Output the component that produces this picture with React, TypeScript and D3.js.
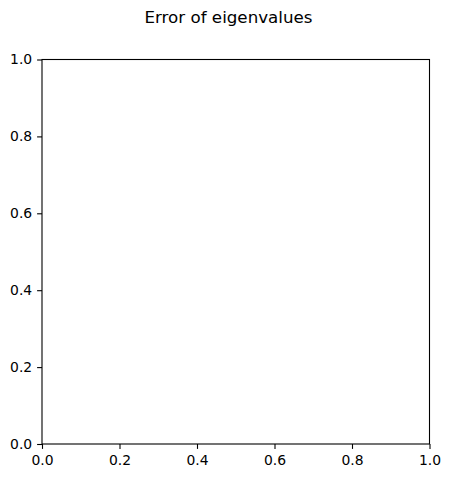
import React, { useEffect, useRef } from "react";
import * as d3 from "d3";

const title = "Error of eigenvalues";
const xDomain = [0, 1];
const yDomain = [0, 1];
const xTicks = [0, 0.2, 0.4, 0.6, 0.8, 1.0];
const yTicks = [0, 0.2, 0.4, 0.6, 0.8, 1.0];

const W = 450;
const H = 478;
const M = { left: 42, right: 429.5, top: 59.5, bottom: 444 };

export default function App() {
  const ref = useRef<SVGSVGElement>(null);
  useEffect(() => {
    const svg = d3.select(ref.current);
    svg.selectAll("*").remove();
    const x = d3.scaleLinear().domain(xDomain).range([M.left, M.right]);
    const y = d3.scaleLinear().domain(yDomain).range([M.bottom, M.top]);
    const font = "'DejaVu Sans', sans-serif";
    const fs = 13.9;

    svg.append("rect").attr("width", W).attr("height", H).attr("fill", "white");

    const xa = svg
      .append("g")
      .attr("transform", `translate(0,${M.bottom})`)
      .call(d3.axisBottom(x).tickValues(xTicks).tickFormat(d3.format(".1f")).tickSize(4.9).tickPadding(4.9));
    xa.selectAll("text").attr("dy", null).attr("y", 21);
    const ya = svg
      .append("g")
      .attr("transform", `translate(${M.left},0)`)
      .call(d3.axisLeft(y).tickValues(yTicks).tickFormat(d3.format(".1f")).tickSize(4.9).tickPadding(4.9));
    [xa, ya].forEach((g) => {
      g.select(".domain").remove();
      g.selectAll("text").attr("font-family", font).attr("font-size", fs).attr("fill", "black");
      g.selectAll("line").attr("stroke", "black").attr("stroke-width", 1.1);
    });

    svg
      .append("rect")
      .attr("x", M.left)
      .attr("y", M.top)
      .attr("width", M.right - M.left)
      .attr("height", M.bottom - M.top)
      .attr("fill", "none")
      .attr("stroke", "black")
      .attr("stroke-width", 1.1);

    svg
      .append("text")
      .attr("x", 228.5)
      .attr("y", 23)
      .attr("text-anchor", "middle")
      .attr("font-family", font)
      .attr("font-size", 16.7)
      .attr("fill", "black")
      .text(title);
  }, []);
  return (
    <svg
      ref={ref}
      width={W}
      height={H}
      style={{ position: "absolute", left: 0, top: 0, display: "block" }}
    />
  );
}
